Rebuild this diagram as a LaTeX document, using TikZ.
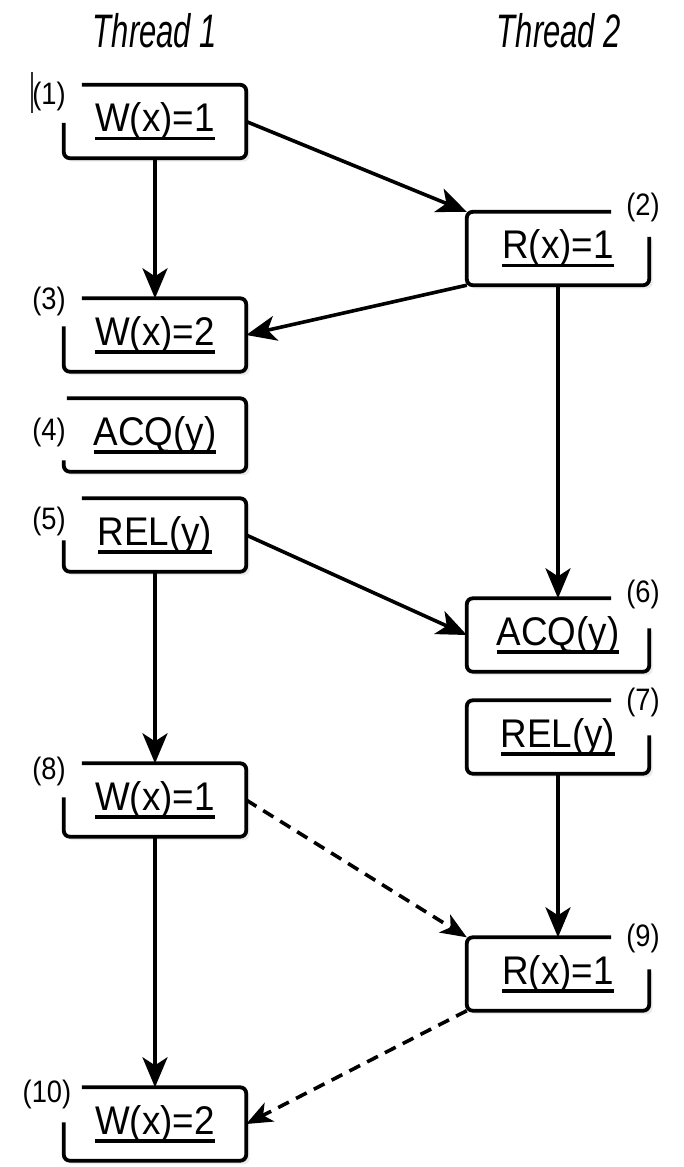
\documentclass[tikz,border=0pt]{standalone}
\usepackage{fontspec}
\setmainfont{Liberation Sans}
\newfontfamily\boxfam[FakeStretch=0.92]{Liberation Sans}
\newfontfamily\labfam[FakeStretch=0.88]{Liberation Sans}
\newfontfamily\thfam[FakeStretch=0.66]{Liberation Sans}
\usetikzlibrary{arrows.meta,backgrounds}
\newcommand\myul[1]{\setbox0\hbox{#1}\rlap{\rule[-8.5pt]{\wd0}{3.5pt}}\box0}
\newcommand\leftout[3]{%
  \draw[outl] ([xshift=#2]#1.north west) -- (#1.north east) -- (#1.south east) -- (#1.south west) -- ([yshift=-#3]#1.north west);}
\newcommand\rightout[3]{%
  \draw[outl] ([yshift=-#3]#1.north east) -- (#1.south east) -- (#1.south west) -- (#1.north west) -- ([xshift=-#2]#1.north east);}
\newcommand\bgbox[2]{%
  \fill[gray!16, rounded corners=6pt] ([shift={(3.5pt,-#2)}]#1.north west) rectangle ([shift={(3.5pt,-3.5pt)}]#1.south east);
  \fill[white, rounded corners=6pt] (#1.north west) rectangle (#1.south east);}
\begin{document}
\begin{tikzpicture}[x=1pt,y=-1pt,
  ev/.style={minimum width=182pt, minimum height=73pt, inner sep=0pt,
    font=\boxfam\fontsize{40}{40}\selectfont},
  lab/.style={inner sep=0pt, font=\labfam\fontsize{31}{31}\selectfont},
  thr/.style={inner sep=0pt, font=\thfam\itshape\fontsize{47}{47}\selectfont},
  outl/.style={line width=3.8pt, rounded corners=6pt, line cap=butt},
  arr/.style={line width=3.6pt, -{Stealth[length=30pt,width=25pt,inset=8pt]}},
  darr/.style={line width=3.6pt, dash pattern=on 12pt off 8pt, -{Stealth[length=26pt,width=21pt,inset=7pt]}}]
\useasboundingbox (0,0) rectangle (684,1167);

\node[thr] (t1) at (155,31) {Thread 1};
\node[thr] (t2) at (559,31) {Thread 2};

% thread 1
\node[ev] (b1) at (155,121.5) {\myul{W(x)=1}};
\node[ev] (b3) at (155,335) {\myul{W(x)=2}};
\node[ev] (b4) at (155,435) {\myul{ACQ(y)}};
\node[ev] (b5) at (155,535) {\myul{REL(y)}};
\node[ev] (b8) at (155,800) {\myul{W(x)=1}};
\node[ev] (b10) at (155,1124) {\myul{W(x)=2}};
% thread 2
\node[ev] (b2) at (558,248.5) {\myul{R(x)=1}};
\node[ev] (b6) at (558,635) {\myul{ACQ(y)}};
\node[ev] (b7) at (558,737) {\myul{REL(y)}};
\node[ev] (b9) at (558,974) {\myul{R(x)=1}};

\begin{pgfonlayer}{background}
\bgbox{b1}{3.5pt}\bgbox{b3}{3.5pt}\bgbox{b4}{3.5pt}\bgbox{b5}{3.5pt}\bgbox{b8}{3.5pt}\bgbox{b10}{3.5pt}
\bgbox{b2}{25pt}\bgbox{b6}{30pt}\bgbox{b7}{35pt}\bgbox{b9}{32pt}
\end{pgfonlayer}

\leftout{b1}{18pt}{38pt}
\leftout{b3}{18pt}{28pt}
\leftout{b4}{3pt}{62pt}
\leftout{b5}{18pt}{42pt}
\leftout{b8}{18pt}{34pt}
\leftout{b10}{18pt}{35pt}
\rightout{b2}{38pt}{25pt}
\rightout{b6}{38pt}{30pt}
\rightout{b7}{38pt}{35pt}
\rightout{b9}{38pt}{32pt}

% labels
\node[lab] (l1) at (49,96) {(1)};
\node[lab] (l3) at (49,301) {(3)};
\node[lab] (l4) at (49,432) {(4)};
\node[lab] (l5) at (49,521) {(5)};
\node[lab] (l8) at (49,771) {(8)};
\node[lab] (l10) at (47,1094) {(10)};
\node[lab] (l2) at (643,207) {(2)};
\node[lab] (l6) at (643,594) {(6)};
\node[lab] (l7) at (643,702) {(7)};
\node[lab] (l9) at (643,938) {(9)};

% stray cursor mark
\coordinate (c1) at (32,72);
\coordinate (c2) at (32,113);
\draw[line width=1.5pt, black!80] (c1) -- (c2);

% connectors
\draw[arr] (b1.south) -- (b3.north);
\draw[arr] (b1.east) -- (b2.north west);
\draw[arr] (b2.south west) -- (b3.east);
\draw[arr] (b2.south) -- (b6.north);
\draw[arr] (b5.east) -- (b6.west);
\draw[arr] (b5.south) -- (b8.north);
\draw[arr] (b7.south) -- (b9.north);
\draw[arr] (b8.south) -- (b10.north);
\draw[darr] (b8.east) -- (b9.north west);
\draw[darr] (b9.south west) -- (b10.east);
\end{tikzpicture}
\end{document}
